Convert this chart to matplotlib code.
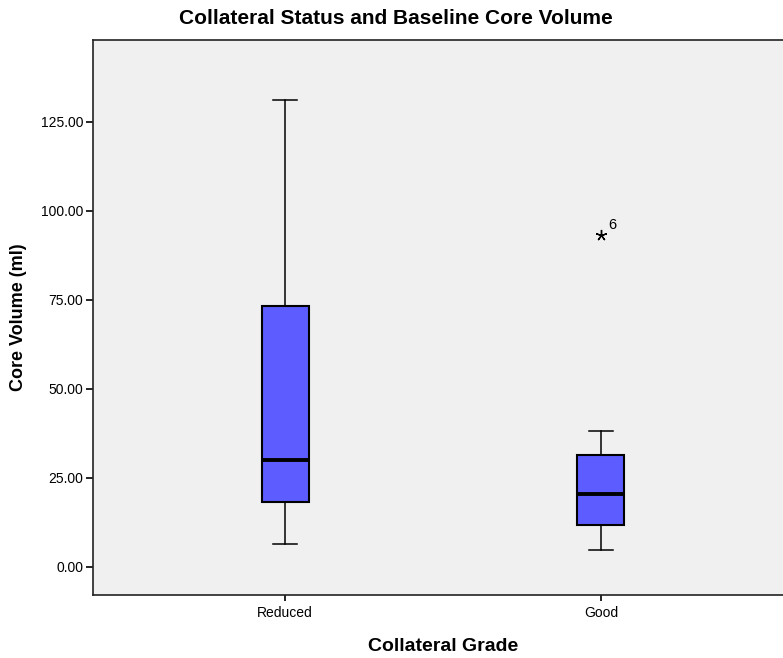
import matplotlib
matplotlib.use("Agg")
import matplotlib.pyplot as plt

plt.rcParams['font.family'] = ['Liberation Sans', 'DejaVu Sans']

categories = ["Reduced", "Good"]
whislo = [6.5, 4.8]
q1 = [18.3, 11.8]
med = [30.1, 20.5]
q3 = [73.3, 31.5]
whishi = [131.2, 38.2]
outliers = [[], [93.3]]
outlier_labels = [[], ["6"]]
yticks = [0, 25, 50, 75, 100, 125]

fig = plt.figure(figsize=(7.83, 6.58), dpi=100)
ax = fig.add_axes([93/783, 63/658, 700/783, 555/658])
ax.set_facecolor('#F0F0F0')

stats = []
for i, c in enumerate(categories):
    stats.append(dict(label=c, whislo=whislo[i], q1=q1[i], med=med[i],
                      q3=q3[i], whishi=whishi[i], fliers=[]))

ax.bxp(stats, positions=range(len(categories)), widths=0.149,
       patch_artist=True, showfliers=False,
       boxprops=dict(facecolor='#5C5CFF', edgecolor='black', linewidth=1.5),
       medianprops=dict(color='black', linewidth=2.8),
       whiskerprops=dict(color='black', linewidth=1.1),
       capprops=dict(color='black', linewidth=1.1),
       capwidths=0.075)

for i, (vals, labs) in enumerate(zip(outliers, outlier_labels)):
    for v, lab in zip(vals, labs):
        ax.plot([i], [v], marker=(5, 2, 0), markersize=8, color='black',
                markeredgewidth=1.0, linestyle='none')
        ax.annotate(lab, (i, v), xytext=(5, 4), textcoords='offset points',
                    fontsize=10.5)

ax.set_xlim(-0.608, 1.608)
ax.set_ylim(-7.87, 148.0)
ax.set_yticks(yticks)
ax.set_yticklabels([f"{v:.2f}" for v in yticks], fontsize=10)
ax.set_xticks(range(len(categories)))
ax.set_xticklabels(categories, fontsize=10)
ax.tick_params(axis='y', length=5, width=1.2, direction='out', pad=2)
ax.tick_params(axis='x', length=4, width=1.2, direction='out', pad=4)

for s in ['left', 'bottom', 'top']:
    ax.spines[s].set_linewidth(1.2)
    ax.spines[s].set_color('#222222')
ax.spines['right'].set_visible(False)

ax.set_ylabel("Core Volume (ml)", fontsize=13, fontweight='bold', labelpad=10)
ax.set_xlabel("Collateral Grade", fontsize=14, fontweight='bold', labelpad=13)
fig.text(396/783, 1 - 18/658, "Collateral Status and Baseline Core Volume",
         ha='center', va='center', fontsize=15, fontweight='bold')

fig.savefig("out.png", dpi=100)
